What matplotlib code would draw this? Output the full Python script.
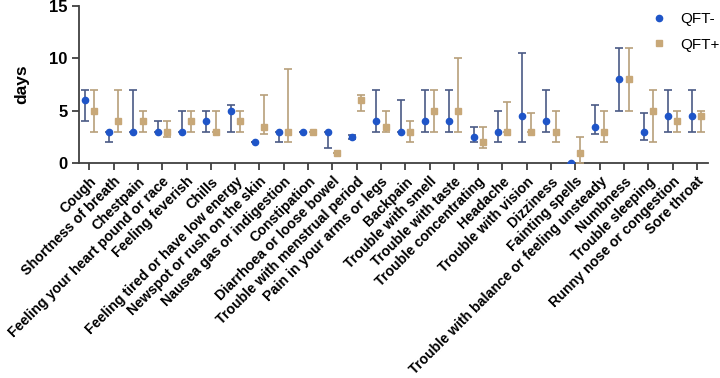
import numpy as np
import matplotlib
matplotlib.use('Agg')
import matplotlib.pyplot as plt
from matplotlib.lines import Line2D

plt.rcParams['font.family'] = ['Liberation Sans', 'DejaVu Sans']

# symptoms
categories = ['Cough', 'Shortness of breath', 'Chestpain', 'Feeling your heart pound or race',
              'Feeling feverish', 'Chills', 'Feeling tired or have low energy',
              'Newspot or rush on the skin', 'Nausea gas or indigestion', 'Constipation',
              'Diarrhoea or loose bowel', 'Trouble with menstrual period', 'Pain in your arms or legs',
              'Backpain', 'Trouble with smell', 'Trouble with taste', 'Trouble concentrating',
              'Headache', 'Trouble with vision', 'Dizziness', 'Fainting spells',
              'Trouble with balance or feeling unsteady', 'Numbness', 'Trouble sleeping',
              'Runny nose or congestion', 'Sore throat']

# QFT- : median, low, high (days)
neg_med = [6, 3, 3, 3, 3, 4, 5, 2, 3, 3, 3, 2.5, 4, 3, 4, 4, 2.5, 3, 4.5, 4, 0, 3.5, 8, 3, 4.5, 4.5]
neg_lo = [4, 2, 3, 3, 3, 3, 3, 2, 2, 3, 1.5, 2.3, 3, 3, 3, 3, 2, 2, 2, 3, 0, 2.75, 5, 2.2, 3, 3]
neg_hi = [7, 3, 7, 4, 5, 5, 5.5, 2, 3, 3, 3, 2.7, 7, 6, 7, 7, 3.5, 5, 10.5, 7, 0, 5.5, 11, 4.75, 7, 7]

# QFT+ : median, low, high (days)
pos_med = [5, 4, 4, 3, 4, 3, 4, 3.5, 3, 3, 1, 6, 3.5, 3, 5, 5, 2, 3, 3, 3, 1, 3, 8, 5, 4, 4.5]
pos_lo = [3, 3, 3, 2.5, 3, 3, 3, 2.8, 2, 3, 1, 5, 3, 2, 3, 3, 1.5, 3, 3, 2, 0, 2, 5, 2, 3, 3]
pos_hi = [7, 7, 5, 4, 5, 5, 5, 6.5, 9, 3, 1, 6.5, 5, 4, 7, 10, 3.5, 5.8, 4.75, 5, 2.5, 5, 11, 7, 5, 5]

x = np.arange(len(categories))
neg_med = np.array(neg_med); pos_med = np.array(pos_med)
neg_err = [neg_med - np.array(neg_lo), np.array(neg_hi) - neg_med]
pos_err = [pos_med - np.array(pos_lo), np.array(pos_hi) - pos_med]

fig = plt.figure(figsize=(7.2, 3.78), dpi=100)
ax = fig.add_axes([0.11, 0.568, 0.873, 0.417])

ax.errorbar(x - 0.19, neg_med, yerr=neg_err, fmt='o', color='#1f55c8', ecolor='#4a5a85',
            elinewidth=1.2, capsize=3, capthick=1.2, markersize=4.5, zorder=3)
ax.errorbar(x + 0.19, pos_med, yerr=pos_err, fmt='s', color='#c8a878', ecolor='#b8a07a',
            elinewidth=1.2, capsize=3, capthick=1.2, markersize=4.5, zorder=3)

ax.set_xlim(-0.42, 25.45)
ax.set_ylim(0, 15)
ax.set_yticks([0, 5, 10, 15])
ax.set_xticks(x)
ax.set_xticklabels(categories, rotation=45, ha='right', rotation_mode='anchor',
                   fontsize=10.2, fontweight='bold')
for lab in ax.get_yticklabels():
    lab.set_fontsize(12)
    lab.set_fontweight('bold')
ax.set_ylabel('days', fontsize=12.5, fontweight='bold', labelpad=14)

for s in ['top', 'right']:
    ax.spines[s].set_visible(False)
for s in ['left', 'bottom']:
    ax.spines[s].set_color('#404040')
    ax.spines[s].set_linewidth(1.3)
ax.tick_params(axis='both', direction='out', length=5, width=1.3, color='#404040')
ax.tick_params(axis='x', pad=3)

handles = [Line2D([], [], ls='none', marker='o', color='#1f55c8', markersize=4.5),
           Line2D([], [], ls='none', marker='s', color='#c8a878', markersize=4.5)]
ax.legend(handles, ['QFT-', 'QFT+'], loc='upper right', frameon=False, fontsize=11,
          handletextpad=0.6, handlelength=1.5, bbox_to_anchor=(1.04, 1.045), labelspacing=0.75)

fig.savefig('out.png', dpi=100)
